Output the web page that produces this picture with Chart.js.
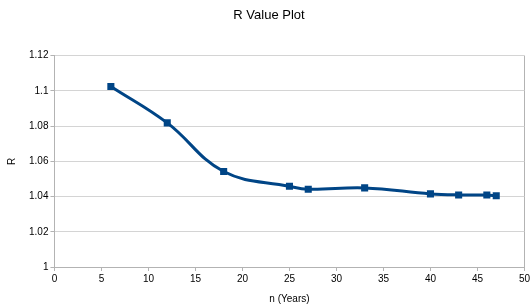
<!DOCTYPE html>
<html>
<head>
<meta charset="utf-8">
<script src="https://cdn.jsdelivr.net/npm/chart.js@4/dist/chart.umd.min.js"></script>
<style>
  html, body { margin: 0; padding: 0; background: #fff; }
  #wrap { width: 532px; height: 307px; }
</style>
</head>
<body>
<div id="wrap"><canvas id="c"></canvas></div>
<script>
// dati
const years = [6, 12, 18, 25, 27, 33, 40, 43, 46, 47];
const rValues = [1.1025, 1.0818, 1.0542, 1.0458, 1.0441, 1.0449, 1.0415, 1.0409, 1.0409, 1.0404];
const xTicks = [0, 5, 10, 15, 20, 25, 30, 35, 40, 45, 50];
const yTicks = [1, 1.02, 1.04, 1.06, 1.08, 1.1, 1.12];

const points = years.map((x, i) => ({ x: x, y: rValues[i] }));
const fontFamily = '"Liberation Sans", Arial, sans-serif';

new Chart(document.getElementById('c'), {
    type: 'scatter',
    data: {
        datasets: [
            {
                label: 'R',
                data: points,
                showLine: true,
                borderColor: '#004586',
                backgroundColor: '#004586',
                borderWidth: 3,
                pointStyle: 'rect',
                pointRadius: 5,
                pointBorderWidth: 0,
                tension: 0.4
            }
        ]
    },
    options: {
        responsive: true,
        maintainAspectRatio: false,
        animation: false,
        layout: {
            padding: { left: 6, right: 0, top: 0, bottom: 2 }
        },
        plugins: {
            legend: { display: false },
            tooltip: { enabled: false },
            title: {
                display: true,
                text: 'R Value Plot',
                color: '#000',
                font: { family: fontFamily, size: 13, weight: 'normal' },
                padding: { top: 8, bottom: 32 }
            }
        },
        scales: {
            x: {
                type: 'linear',
                min: 0,
                max: 50,
                afterBuildTicks: axis => { axis.ticks = xTicks.map(v => ({ value: v })); },
                ticks: {
                    color: '#000',
                    font: { family: fontFamily, size: 10 },
                    maxRotation: 0,
                    padding: 2
                },
                grid: {
                    // solo la linea di destra
                    color: c => c.index === xTicks.length - 1 ? '#b3b3b3' : 'rgba(0,0,0,0)',
                    tickColor: '#b3b3b3',
                    tickLength: 4
                },
                border: { color: '#b3b3b3' },
                title: {
                    display: true,
                    text: 'n (Years)',
                    color: '#000',
                    font: { family: fontFamily, size: 10 },
                    padding: { top: 6, bottom: 0 }
                }
            },
            y: {
                type: 'linear',
                min: 1,
                max: 1.12,
                afterBuildTicks: axis => { axis.ticks = yTicks.map(v => ({ value: v })); },
                ticks: {
                    color: '#000',
                    font: { family: fontFamily, size: 10 },
                    padding: 2,
                    callback: v => String(Math.round(v * 100) / 100)
                },
                grid: {
                    color: '#d4d4d4',
                    tickColor: '#b3b3b3',
                    tickLength: 4
                },
                border: { color: '#b3b3b3' },
                title: {
                    display: true,
                    text: 'R',
                    color: '#000',
                    font: { family: fontFamily, size: 10 },
                    padding: { top: 0, bottom: 9 }
                }
            }
        }
    }
});
</script>
</body>
</html>
